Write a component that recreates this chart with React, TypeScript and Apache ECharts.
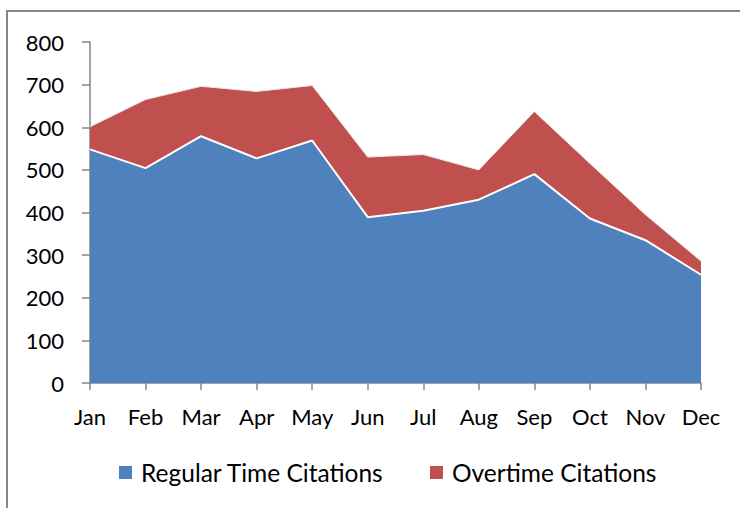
import React, { useEffect, useRef } from "react";
import * as echarts from "echarts";

const months = ["Jan", "Feb", "Mar", "Apr", "May", "Jun", "Jul", "Aug", "Sep", "Oct", "Nov", "Dec"];
const regularTime = [548, 504, 579, 527, 569, 389, 404, 430, 490, 386, 335, 254];
const overtime = [53, 161, 117, 157, 129, 141, 132, 70, 147, 129, 60, 32];
const seriesNames = ["Regular Time Citations", "Overtime Citations"];

const FONT = "Lato, 'Open Sans', sans-serif";

export default function App() {
  const ref = useRef<HTMLDivElement>(null);
  useEffect(() => {
    if (!ref.current) return;
    const chart = echarts.init(ref.current, null, { renderer: "svg" });
    const axisColor = "#868686";
    chart.setOption({
      animation: false,
      backgroundColor: "#ffffff",
      grid: { left: 90, right: 39, top: 42, bottom: 125 },
      xAxis: {
        type: "category",
        data: months,
        boundaryGap: false,
        axisLine: { lineStyle: { color: axisColor, width: 1.5 } },
        axisTick: { show: true, length: 7, alignWithLabel: true, lineStyle: { color: axisColor, width: 1.5 } },
        axisLabel: { color: "#000", fontFamily: FONT, fontSize: 22, margin: 22, interval: 0 },
        splitLine: { show: false },
      },
      yAxis: {
        type: "value",
        min: 0,
        max: 800,
        interval: 100,
        axisLine: { show: true, lineStyle: { color: axisColor, width: 1.5 } },
        axisTick: { show: true, length: 8, lineStyle: { color: axisColor, width: 1.5 } },
        axisLabel: { color: "#000", fontFamily: FONT, fontSize: 22, margin: 26 },
        splitLine: { show: false },
      },
      legend: {
        left: 114,
        top: 455,
        icon: "rect",
        itemWidth: 13,
        itemHeight: 13,
        itemGap: 46,
        textStyle: { color: "#000", fontFamily: FONT, fontSize: 24.5, padding: [0, 0, 0, 4] },
        data: [
          { name: seriesNames[0], itemStyle: { color: "#4F81BD" } },
          { name: seriesNames[1], itemStyle: { color: "#C0504D" } },
        ],
      },
      graphic: [
        {
          type: "rect",
          shape: { x: 7, y: 11, width: 800, height: 600 },
          style: { fill: "none", stroke: axisColor, lineWidth: 2 },
          silent: true,
        },
      ],
      series: [
        {
          name: seriesNames[0],
          type: "line",
          stack: "total",
          data: regularTime,
          symbol: "none",
          z: 3,
          itemStyle: { color: "#4F81BD" },
          lineStyle: { color: "#ffffff", width: 2 },
          areaStyle: { color: "#4F81BD", opacity: 1 },
        },
        {
          name: seriesNames[1],
          type: "line",
          stack: "total",
          data: overtime,
          symbol: "none",
          z: 2,
          itemStyle: { color: "#C0504D" },
          lineStyle: { color: "#e8e8e8", width: 1 },
          areaStyle: { color: "#C0504D", opacity: 1 },
        },
      ],
    });
    return () => chart.dispose();
  }, []);
  return (
    <div
      ref={ref}
      style={{ position: "absolute", left: 0, top: 0, width: 740, height: 508 }}
    />
  );
}
